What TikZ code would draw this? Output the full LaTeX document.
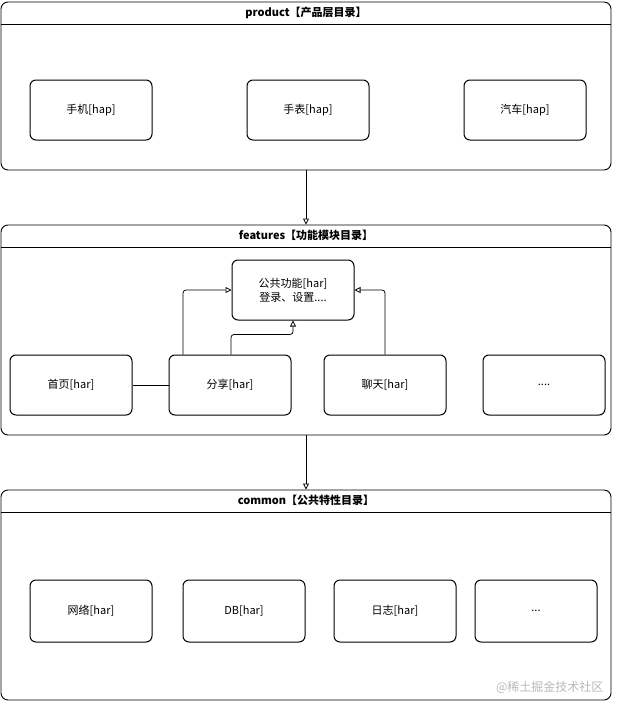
\documentclass[tikz,border=0pt]{standalone}
\usepackage{fontspec}
\setmainfont{Noto Sans CJK SC}
\usetikzlibrary{arrows.meta,positioning}

\begin{document}
\begin{tikzpicture}[x=1pt, y=-1pt,
    layer/.style={draw, rounded corners=7pt, line width=0.9pt, minimum width=610pt, minimum height=#1, inner sep=0pt},
    layertitle/.style={minimum width=610pt, minimum height=22pt, inner sep=0pt, font=\fontsize{11}{13}\selectfont\bfseries},
    module/.style={draw, rounded corners=6pt, line width=1pt, minimum width=122pt, minimum height=60pt, align=center, font=\fontsize{11}{14}\selectfont},
    arrow/.style={-{Triangle[open, length=6pt, width=6pt]}, line width=0.8pt},
    link/.style={line width=0.8pt, rounded corners=3pt}
  ]
    \useasboundingbox (0,0) rectangle (622,712);

    % product layer
    \node[layer=168pt] (prod) at (306,86) {};
    \node[layertitle, below=0pt of prod.north] (prodtitle) {product【产品层目录】};
    \draw[line width=0.9pt] (prodtitle.south west) -- (prodtitle.south east);
    \node[module] (phone) at (91,110) {手机[hap]};
    \node[module, right=94pt of phone] (watch) {手表[hap]};
    \node[module, right=94pt of watch] (car) {汽车[hap]};

    % features layer
    \node[layer=210pt] (feat) at (306,330) {};
    \node[layertitle, below=0pt of feat.north] (feattitle) {features【功能模块目录】};
    \draw[line width=0.9pt] (feattitle.south west) -- (feattitle.south east);
    \node[module] (pub) at (293,290) {公共功能[har]\\登录、设置....};
    \node[module] (home) at (71,385) {首页[har]};
    \node[module, right=36pt of home] (share) {分享[har]};
    \node[module, right=32pt of share] (chat) {聊天[har]};
    \node[module, right=36pt of chat] (more) {....};

    % common layer
    \node[layer=210pt] (common) at (306,595) {};
    \node[layertitle, below=0pt of common.north] (commontitle) {common【公共特性目录】};
    \draw[line width=0.9pt] (commontitle.south west) -- (commontitle.south east);
    \node[module, minimum height=62pt] (net) at (91,611) {网络[har]};
    \node[module, minimum height=62pt, right=30pt of net] (db) {DB[har]};
    \node[module, minimum height=62pt, right=28pt of db] (log) {日志[har]};
    \node[module, minimum height=62pt, right=18pt of log] (etc) {...};

    \node[text=gray!55, font=\fontsize{12}{14}\selectfont, anchor=east] (mark) at (607,687) {@稀土掘金技术社区};

    % connectors
    \draw[arrow] (prod.south) -- (feat.north);
    \draw[arrow] (feat.south) -- (common.north);
    \draw[link] (home.east) -- (share.west);
    \draw[arrow, link] ([xshift=-47pt]share.north) |- (pub.west);
    \draw[arrow, link] ([xshift=1pt]share.north) -- ++(0,-20) -| (pub.south);
    \draw[arrow, link] (chat.north) |- (pub.east);
  \end{tikzpicture}
\end{document}
